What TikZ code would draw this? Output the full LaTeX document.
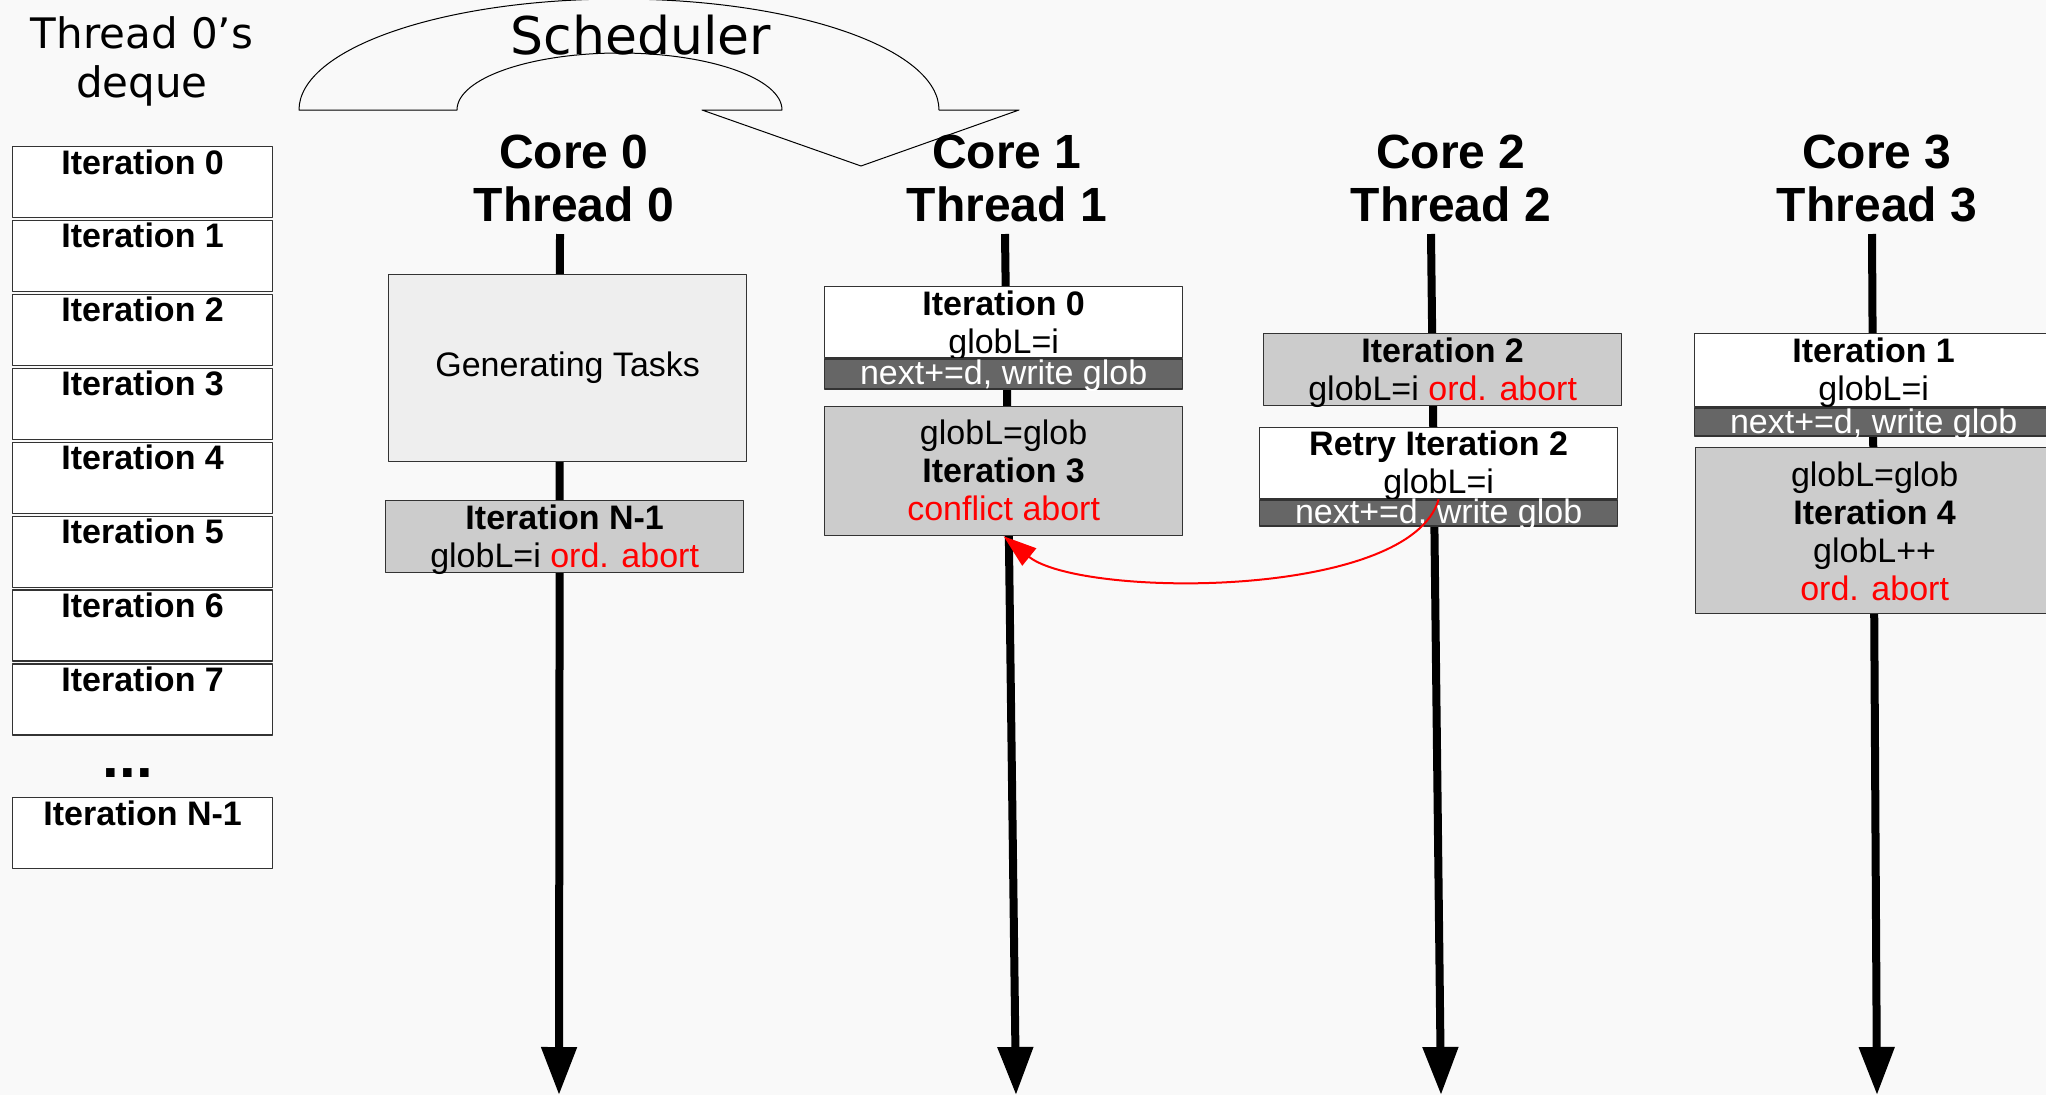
\documentclass[tikz,border=0pt]{standalone}
\usepackage{fontspec}
\setmainfont{Liberation Sans}
\newfontfamily\dejavu{DejaVu Sans}
\usetikzlibrary{arrows.meta}
\definecolor{bgcol}{RGB}{249,249,249}
\definecolor{genfill}{RGB}{238,238,238}
\definecolor{iterfill}{RGB}{204,204,204}
\definecolor{bandfill}{RGB}{102,102,102}

\begin{document}
\begin{tikzpicture}[x=1pt,y=-1pt,line join=round,
  box/.style={draw=black!80,line width=1.3pt,anchor=north west,minimum width=358pt,inner sep=0pt},
  dq/.style={box,fill=white,minimum width=260pt,minimum height=71pt},
  band/.style={box,fill=bandfill},
  txt/.style={anchor=base,align=center,inner sep=0pt,font=\fontsize{34}{38}\selectfont},
  core/.style={anchor=base,align=center,inner sep=0pt,font=\bfseries\fontsize{48}{53}\selectfont},
  timeline/.style={line width=8pt,-{Triangle[length=48pt,width=34pt]}}]
  \useasboundingbox (0,0) rectangle (2046,1095);
  \fill[bgcol] (0,0) rectangle (2046,1095);

  % deque of thread 0 (base of a multi-line node = its last line)
  \node[anchor=base,align=center,inner sep=0pt,font=\dejavu\fontsize{42}{49}\selectfont] (dqtitle) at (142,97) {Thread 0’s\\deque};
  \foreach \i in {0,...,7} {
    \node[dq] (dq\i) at (12,{146+73.9*\i}) {};
    \node[txt,font=\bfseries\fontsize{34}{38}\selectfont] (dq\i t) at ([yshift=-28pt]dq\i.north) {Iteration \i};
  }
  \node[anchor=base,inner sep=0pt,font=\bfseries\fontsize{60}{60}\selectfont] (dots) at (128,777) {...};
  \node[dq] (dqn) at (12,797) {};
  \node[txt,font=\bfseries\fontsize{34}{38}\selectfont] (dqnt) at ([yshift=-28pt]dqn.north) {Iteration N-1};

  % scheduler arrow
  \draw[line width=1pt] (299,110) arc[start angle=180,end angle=0,x radius=320pt,y radius=111pt]
    -- (1019,110) -- (861,166) -- (702,110) -- (782,110)
    arc[start angle=0,end angle=180,x radius=162.5pt,y radius=57pt] -- cycle;
  \node[anchor=base,inner sep=0pt,font=\dejavu\fontsize{52}{52}\selectfont] (sched) at (641,54) {Scheduler};

  % cores
  \node[core] (c0) at (574,221) {Core 0\\Thread 0};
  \node[core] (c1) at (1007,221) {Core 1\\Thread 1};
  \node[core] (c2) at (1451,221) {Core 2\\Thread 2};
  \node[core] (c3) at (1877,221) {Core 3\\Thread 3};
  \coordinate (t0a) at (560,234);  \coordinate (t0b) at (559,1095);
  \coordinate (t1a) at (1005,234); \coordinate (t1b) at (1016,1095);
  \coordinate (t2a) at (1431,234); \coordinate (t2b) at (1441,1095);
  \coordinate (t3a) at (1872,234); \coordinate (t3b) at (1877,1095);
  \draw[timeline] (t0a) -- (t0b);
  \draw[timeline] (t1a) -- (t1b);
  \draw[timeline] (t2a) -- (t2b);
  \draw[timeline] (t3a) -- (t3b);

  % core 0
  \node[box,fill=genfill,minimum height=187pt,font=\fontsize{34}{38}\selectfont] (gen) at (388,274) {Generating Tasks};
  \node[box,fill=iterfill,minimum height=72pt] (n1) at (385,500) {};
  \node[txt] (n1t) at ([yshift=-67pt]n1.north) {\textbf{Iteration N-1}\\globL=i \textcolor{red}{ord. abort}};

  % core 1
  \node[box,fill=white,minimum height=71pt] (it0) at (824,286) {};
  \node[txt] (it0t) at ([yshift=-67pt]it0.north) {\textbf{Iteration 0}\\globL=i};
  \node[band,minimum height=30pt] (it0b) at (it0.south west) {};
  \node[txt,text=white] (it0bt) at ([yshift=-26pt]it0b.north) {next+=d, write glob};
  \node[box,fill=iterfill,minimum height=129pt] (g1) at (824,406) {};
  \node[txt] (g1t) at ([yshift=-114pt]g1.north) {globL=glob\\\textbf{Iteration 3}\\\textcolor{red}{conflict abort}};

  % core 2
  \node[box,fill=iterfill,minimum height=72pt] (it2) at (1263,333) {};
  \node[txt] (it2t) at ([yshift=-67pt]it2.north) {\textbf{Iteration 2}\\globL=i \textcolor{red}{ord. abort}};
  \node[box,fill=white,minimum height=71pt] (r2) at (1259,427) {};
  \node[txt] (r2t) at ([yshift=-66pt]r2.north) {\textbf{Retry Iteration 2}\\globL=i};
  \node[band,minimum height=26pt] (r2b) at (r2.south west) {};
  \node[txt,text=white] (r2bt) at ([yshift=-24pt]r2b.north) {next+=d, write glob};

  % core 3
  \node[box,fill=white,minimum height=73pt] (it1) at (1694,333) {};
  \node[txt] (it1t) at ([yshift=-67pt]it1.north) {\textbf{Iteration 1}\\globL=i};
  \node[band,minimum height=28pt] (it1b) at (it1.south west) {};
  \node[txt,text=white] (it1bt) at ([yshift=-26pt]it1b.north) {next+=d, write glob};
  \node[box,fill=iterfill,minimum height=166pt] (g3) at (1695,447) {};
  \node[txt] (g3t) at ([yshift=-153pt]g3.north) {globL=glob\\\textbf{Iteration 4}\\globL++\\\textcolor{red}{ord. abort}};

  % conflict
  \draw[red,line width=2pt,-{Triangle[length=33pt,width=22pt]}] (r2b.north) .. controls (1410,600) and (1080,598) .. (g1.south);
\end{tikzpicture}
\end{document}
